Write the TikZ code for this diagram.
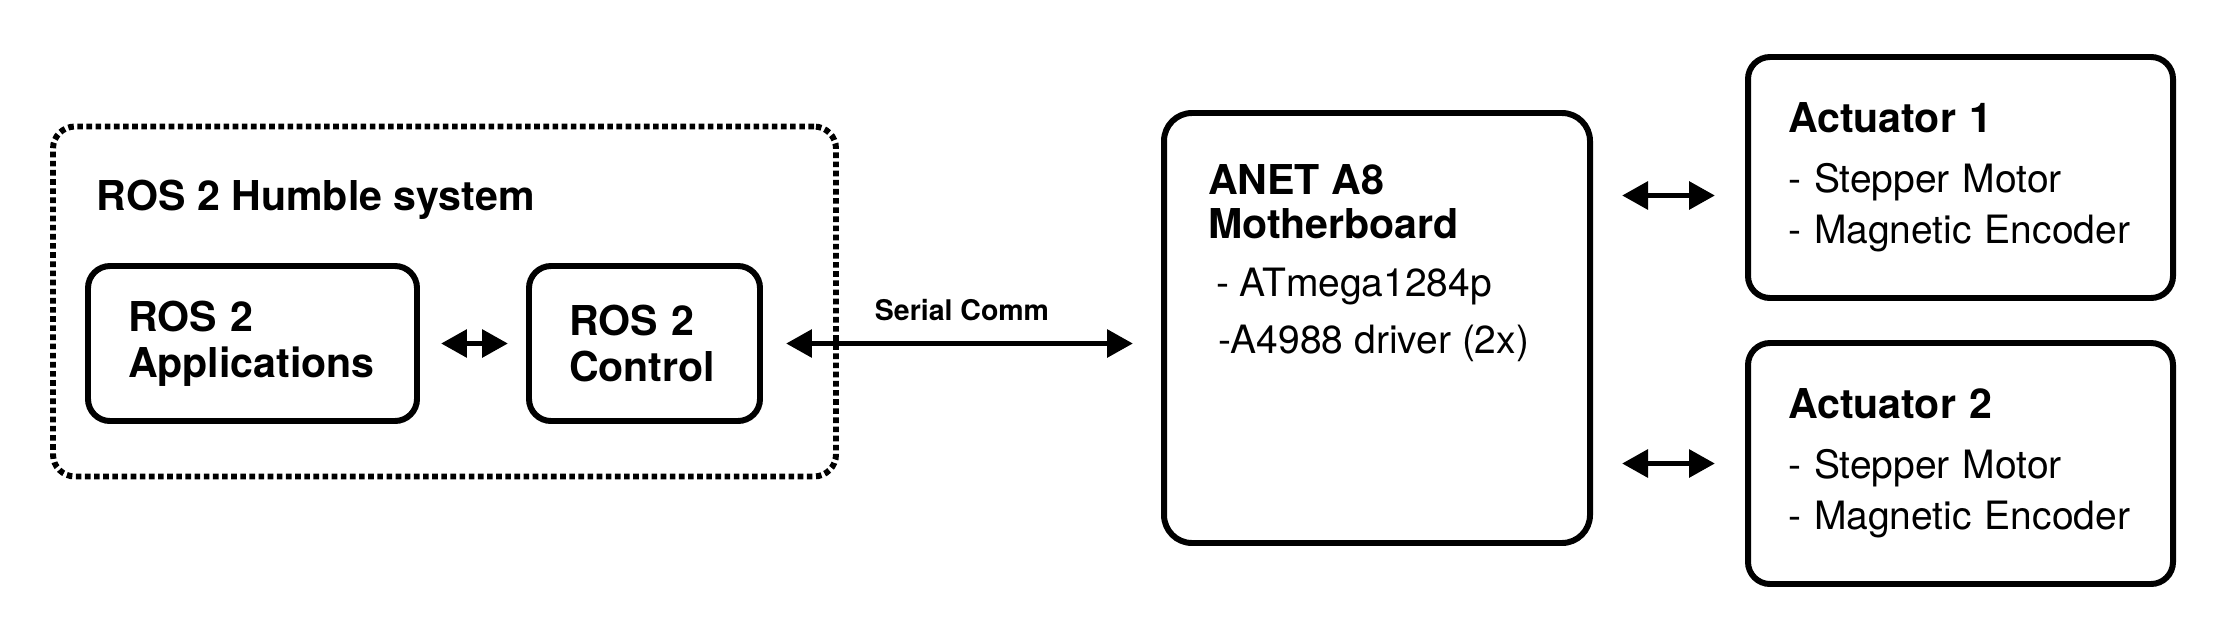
\documentclass[tikz,border=0pt]{standalone}
\usepackage{fontspec}
\setmainfont{TeX Gyre Heros}
\usetikzlibrary{arrows.meta,positioning}

\newcommand\headline[1]{{\fontsize{11.7}{13}\selectfont\bfseries #1}}

\begin{document}
\begin{tikzpicture}[line width=1.7pt,
    block/.style={draw, rounded corners=0.22cm, inner xsep=0.4cm, inner ysep=0pt, align=left,
      minimum height=1.55cm, font=\fontsize{11.7}{13.2}\selectfont\bfseries},
    actbox/.style={draw, rounded corners=0.22cm, inner xsep=0.4cm, inner ysep=0pt, align=left,
      text width=3.45cm, minimum width=4.25cm, minimum height=2.41cm,
      font=\fontsize{11.1}{14.5}\selectfont},
    link/.style={{Triangle[length=0.26cm,width=0.27cm]}-{Triangle[length=0.26cm,width=0.27cm]}},
  ]
  \useasboundingbox (0,0) rectangle (22.4,6.4);

  % ROS 2 side
  \node[draw, dash pattern=on 1.6pt off 1pt, rounded corners=0.22cm,
    minimum width=7.83cm, minimum height=3.50cm] (sys) at (4.445,3.385) {};
  \node[anchor=base west, inner sep=0, font=\fontsize{11.7}{13}\selectfont\bfseries]
    (systitle) at (0.94,4.30) {ROS 2 Humble system};
  \node[block, text width=2.49cm] (app) at (2.525,2.965) {ROS 2\\Applications};
  \node[block, text width=1.51cm] (ctrl) at (6.445,2.965) {ROS 2\\Control};

  % board
  \node[draw, rounded corners=0.28cm, minimum width=4.26cm, minimum height=4.30cm] (mb) at (13.77,3.12) {};
  \node[anchor=north west, inner sep=0, align=left, font=\fontsize{11.1}{12.5}\selectfont]
    (mbtext) at ([xshift=0.44cm,yshift=-0.52cm]mb.north west)
    {\headline{ANET A8}\\\headline{Motherboard}\\[4pt]\hspace*{0.08cm}- ATmega1284p\\[3.5pt]\hspace*{0.1cm}-A4988 driver (2x)};

  % actuators
  \node[actbox] (act1) at (19.605,4.625)
    {\headline{Actuator 1}\\[2.6pt]- Stepper Motor\\- Magnetic~Encoder};
  \node[actbox] (act2) at (19.605,1.765)
    {\headline{Actuator 2}\\[2.6pt]- Stepper Motor\\- Magnetic~Encoder};
  \coordinate (a1in) at ([yshift=-0.18cm]act1.west);

  % links
  \draw[link, shorten <=0.21cm, shorten >=0.18cm] (app.east) -- (ctrl.west);
  \draw[link, shorten <=0.23cm, shorten >=0.28cm] (ctrl.east) --
    node[above=0.08cm, font=\fontsize{8.1}{9}\selectfont\bfseries] (serial) {Serial Comm} (ctrl.east -| mb.west);
  \draw[link, shorten <=0.29cm, shorten >=0.30cm] (a1in -| mb.east) -- (a1in);
  \draw[link, shorten <=0.29cm, shorten >=0.30cm] (act2.west -| mb.east) -- (act2.west);
\end{tikzpicture}
\end{document}
